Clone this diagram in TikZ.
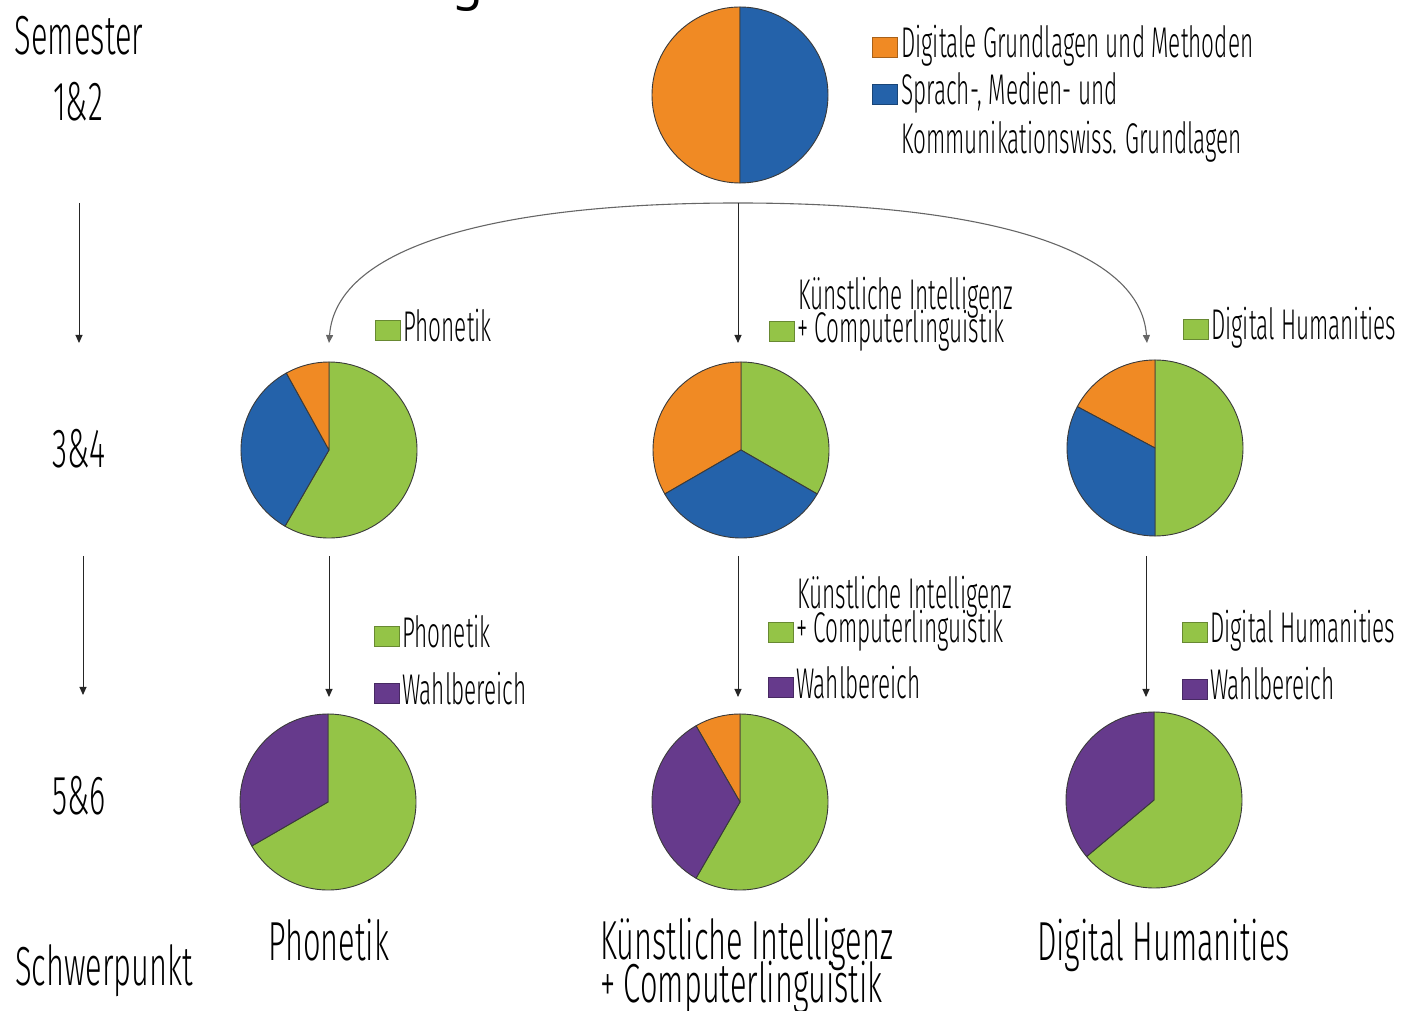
\documentclass[tikz,border=0pt]{standalone}
\usepackage{fontspec}
\setmainfont{Fira Sans}[UprightFont={* Light}, FakeStretch=0.56]
\newfontfamily\legfam{Fira Sans}[UprightFont={* Light}, FakeStretch=0.525]
\newfontfamily\titlefont{Noto Sans}
\usetikzlibrary{arrows.meta}
\definecolor{cOr}{HTML}{F08A24}
\definecolor{cBl}{HTML}{2462AA}
\definecolor{cGr}{HTML}{94C447}
\definecolor{cPu}{HTML}{663A8C}
\definecolor{cEdge}{HTML}{3A3A3A}
\newcommand\bigf{\fontsize{55}{43}\selectfont\lineskiplimit=-100pt\relax}
\newcommand\legf{\legfam\fontsize{43}{33}\selectfont}
\newcommand\mySlice[4]{\filldraw[fill=#4, draw=cEdge, line width=0.9pt, line join=round] (#1.center) -- ++(#2:88) arc[start angle=#2, end angle=#3, radius=88] -- cycle;}
\begin{document}
\begin{tikzpicture}[x=1pt, y=1pt,
  pienode/.style={circle, minimum size=176pt, inner sep=0pt},
  lab/.style={inner sep=0pt, anchor=base west, font=\legf},
  biglab/.style={inner sep=0pt, anchor=base west, font=\bigf, align=left},
  legsq/.style={draw=#1!70!black, fill=#1, line width=0.8pt, minimum width=25pt, minimum height=20pt, inner sep=0pt, anchor=south west},
  arr/.style={draw=black!85, line width=1pt, -{Triangle[length=8pt,width=7pt]}},
  curv/.style={draw=black!60, line width=1.1pt, -{Triangle[length=8pt,width=7pt]}}
]
\useasboundingbox (0,0) rectangle (1403,1010);

% partial title glyph cut at the top
\node[inner sep=0pt, anchor=base west, font=\titlefont\fontsize{50}{50}\selectfont] (ttl) at (452,1010) {g};

% pies
\node[pienode] (p0) at (740,915) {};
\node[pienode] (p1) at (329,560) {};
\node[pienode] (p2) at (741,560) {};
\node[pienode] (p3) at (1155,562) {};
\node[pienode] (p4) at (328,208) {};
\node[pienode] (p5) at (740,208) {};
\node[pienode] (p6) at (1154,210) {};

\mySlice{p0}{90}{270}{cOr}
\mySlice{p0}{-90}{90}{cBl}

\mySlice{p1}{-120}{90}{cGr}
\mySlice{p1}{119}{240}{cBl}
\mySlice{p1}{90}{119}{cOr}

\mySlice{p2}{-30}{90}{cGr}
\mySlice{p2}{90}{210}{cOr}
\mySlice{p2}{210}{330}{cBl}

\mySlice{p3}{-90}{90}{cGr}
\mySlice{p3}{90}{152}{cOr}
\mySlice{p3}{152}{270}{cBl}

\mySlice{p4}{-150}{90}{cGr}
\mySlice{p4}{90}{210}{cPu}

\mySlice{p5}{-120}{90}{cGr}
\mySlice{p5}{90}{120}{cOr}
\mySlice{p5}{120}{240}{cPu}

\mySlice{p6}{-140}{90}{cGr}
\mySlice{p6}{90}{220}{cPu}

% connector coordinates
\coordinate (s0) at (738,807);
\coordinate (t1) at (329,667);
\coordinate (t2) at (738,667);
\coordinate (t3) at (1147,667);
\coordinate (u1) at (329,454);
\coordinate (u2) at (738,454);
\coordinate (u3) at (1146,454);
\coordinate (v1) at (329,313);
\coordinate (v2) at (738,313);
\coordinate (v3) at (1146,313);
\coordinate (la) at (79,807);
\coordinate (lb) at (79,667);
\coordinate (lc) at (83,454);
\coordinate (ld) at (83,315);

\draw[curv] (s0) .. controls (500,807) and (336,765) .. (t1);
\draw[curv] (s0) .. controls (976,807) and (1140,765) .. (t3);
\draw[arr] (s0) -- (t2);
\draw[arr] (u1) -- (v1);
\draw[arr] (u2) -- (v2);
\draw[arr] (u3) -- (v3);
\draw[arr] (la) -- (lb);
\draw[arr] (lc) -- (ld);

% left labels
\node[inner sep=0pt, anchor=base, font=\bigf] (sem) at (79,955) {Semester};
\node[inner sep=0pt, anchor=base, font=\bigf] (s12) at (78,889) {1\&2};
\node[inner sep=0pt, anchor=base, font=\bigf] (s34) at (79,542) {3\&4};
\node[inner sep=0pt, anchor=base, font=\bigf] (s56) at (79,195) {5\&6};
\node[biglab] (swp) at (15,25) {Schwerpunkt};

% top legend
\node[legsq=cOr] (q1) at (872,952) {};
\node[lab] (l1) at (901,952) {Digitale Grundlagen und Methoden};
\node[legsq=cBl] (q2) at (872,905) {};
\node[lab] (l2) at (901,905) {Sprach-, Medien- und};
\node[lab] (l3) at (901,856) {Kommunikationswiss. Grundlagen};

% row 2 legends
\node[legsq=cGr] (q3) at (375,669) {};
\node[lab] (l4) at (403,668) {Phonetik};
\node[lab] (l5) at (798,700) {Künstliche Intelligenz};
\node[legsq=cGr] (q4) at (769,668) {};
\node[lab] (l6) at (797,667) {+ Computerlinguistik};
\node[legsq=cGr] (q5) at (1183,670) {};
\node[lab] (l7) at (1211,670) {Digital Humanities};

% row 3 legends
\node[legsq=cGr] (q6) at (374,363) {};
\node[lab] (l8) at (402,362) {Phonetik};
\node[legsq=cPu] (q7) at (374,306) {};
\node[lab] (l9) at (402,305) {Wahlbereich};
\node[lab] (l10) at (797,401) {Künstliche Intelligenz};
\node[legsq=cGr] (q8) at (768,367) {};
\node[lab] (l11) at (796,367) {+ Computerlinguistik};
\node[legsq=cPu] (q9) at (768,312) {};
\node[lab] (l12) at (796,311) {Wahlbereich};
\node[legsq=cGr] (q10) at (1182,367) {};
\node[lab] (l13) at (1210,367) {Digital Humanities};
\node[legsq=cPu] (q11) at (1182,310) {};
\node[lab] (l14) at (1210,310) {Wahlbereich};

% bottom labels
\node[biglab] (b1) at (268,50) {Phonetik};
\node[biglab] (b2) at (600,8) {Künstliche Intelligenz\\+ Computerlinguistik};
\node[biglab] (b3) at (1037,50) {Digital Humanities};
\end{tikzpicture}
\end{document}
